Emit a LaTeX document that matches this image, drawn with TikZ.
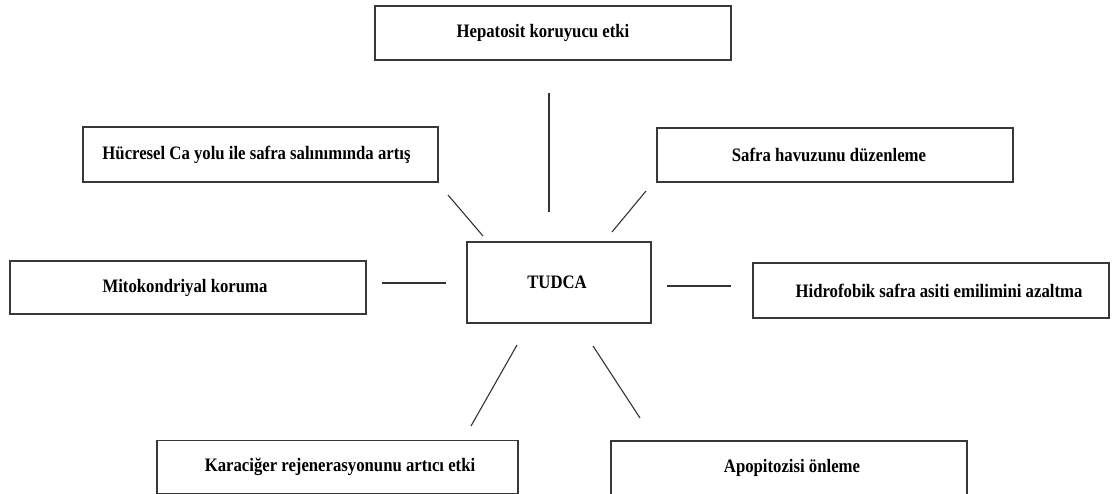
\documentclass[tikz,border=0pt]{standalone}
\usepackage{fontspec}
\setmainfont{Liberation Serif}[FakeStretch=0.88]
\begin{document}
\begin{tikzpicture}[x=1pt,y=-1pt,
  box/.style={draw=black!78, line width=1.4pt, rectangle, inner sep=0pt,
    font=\fontsize{19}{22}\selectfont\bfseries, text=black},
  conn/.style={draw=black!80, line width=1.1pt}]
\useasboundingbox (0,0) rectangle (1117,493);
\clip (0,0) rectangle (1117,493);
\fill[white] (0,0) rectangle (1117,493);
% boxes
\node[box, minimum width=356pt, minimum height=54pt] (hep) at (553,33) {Hepatosit koruyucu etki\hspace*{20pt}};
\node[box, minimum width=355pt, minimum height=55pt] (huc) at (260.5,154.5) {Hücresel Ca yolu ile safra salınımında artış\hspace*{8pt}};
\node[box, minimum width=356pt, minimum height=53pt] (mito) at (188,287.5) {Mitokondriyal koruma\hspace*{6pt}};
\node[box, minimum width=184pt, minimum height=81pt] (tudca) at (559,282.5) {TUDCA\hspace*{4pt}};
\node[box, minimum width=356pt, minimum height=54pt] (safra) at (835,155) {Safra havuzunu düzenleme\hspace*{12pt}};
\node[box, minimum width=356pt, minimum height=55pt] (hidro) at (931,290.5) {\hspace*{16pt}Hidrofobik safra asiti emilimini azaltma};
\node[box, minimum width=361pt, minimum height=53.6pt] (kara) at (337.5,467) {\hspace*{5pt}Karaciğer rejenerasyonunu artıcı etki};
\node[box, minimum width=356pt, minimum height=54pt] (apo) at (789,468) {\hspace*{6pt}Apopitozisi önleme};
% connector end points
\coordinate (vt) at (549,93);   \coordinate (vb) at (549,212);
\coordinate (ula) at (448,195); \coordinate (ulb) at (483,236);
\coordinate (ura) at (646,191); \coordinate (urb) at (612,232);
\coordinate (la) at (382,283);  \coordinate (lb) at (446,283);
\coordinate (ra) at (667,286);  \coordinate (rb) at (731,286);
\coordinate (lla) at (517,345); \coordinate (llb) at (471,426);
\coordinate (lra) at (593,346); \coordinate (lrb) at (640,418);
\draw[conn] (vt) -- (vb);
\draw[conn] (ula) -- (ulb);
\draw[conn] (ura) -- (urb);
\draw[conn] (la) -- (lb);
\draw[conn] (ra) -- (rb);
\draw[conn] (lla) -- (llb);
\draw[conn] (lra) -- (lrb);
\end{tikzpicture}
\end{document}
